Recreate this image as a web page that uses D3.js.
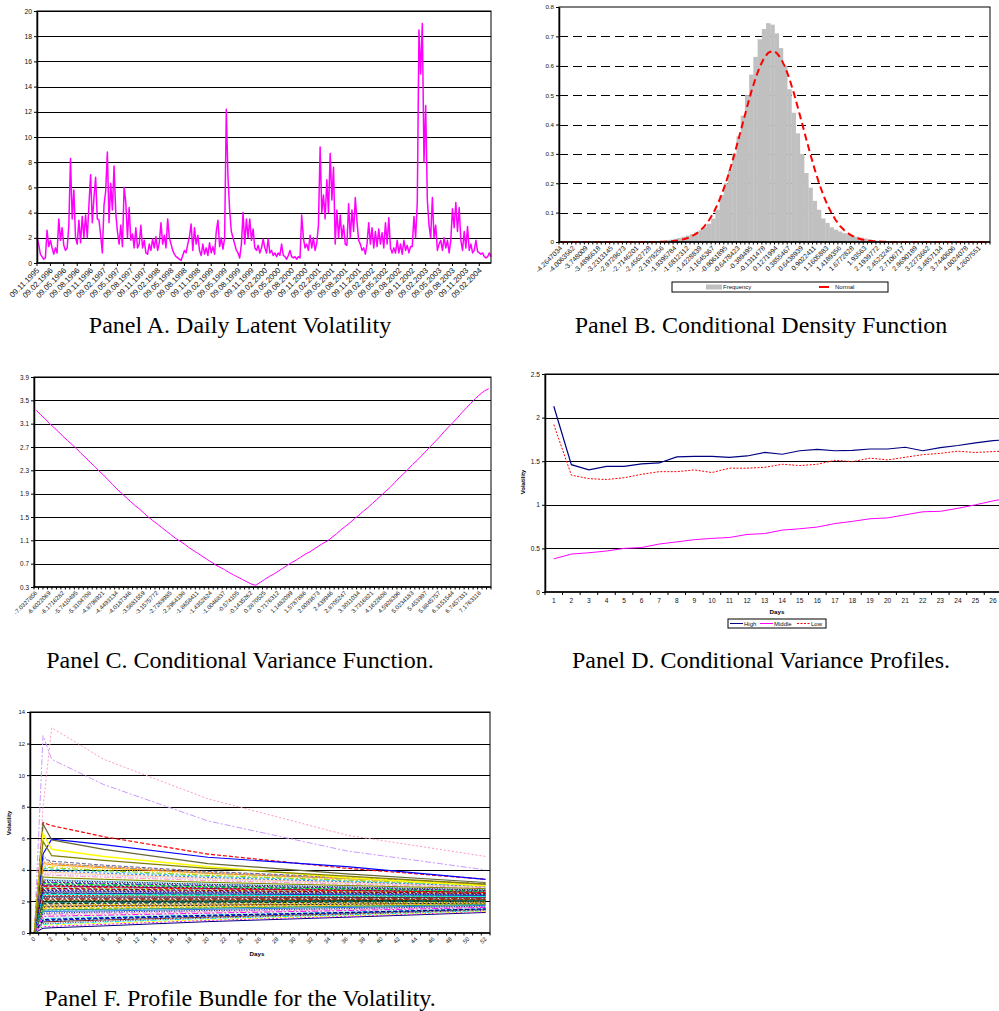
<!DOCTYPE html>
<html><head><meta charset="utf-8"><title>Panels</title>
<script src="https://cdn.jsdelivr.net/npm/d3@7/dist/d3.min.js"></script>
<style>html,body{margin:0;padding:0;background:#fff;}svg{display:block;}</style>
</head><body>
<script>
// ---------------- DATA ----------------
// Panel A
const datesA = ["09.11.1995","09.02.1996","09.05.1996","09.08.1996","09.11.1996","09.02.1997","09.05.1997","09.08.1997","09.11.1997","09.02.1998","09.05.1998","09.08.1998","09.11.1998","09.02.1999","09.05.1999","09.08.1999","09.11.1999","09.02.2000","09.05.2000","09.08.2000","09.11.2000","09.02.2001","09.05.2001","09.08.2001","09.11.2001","09.02.2002","09.05.2002","09.08.2002","09.11.2002","09.02.2003","09.05.2003","09.08.2003","09.11.2003","09.02.2004"];
const pointsPerDateA = 8;
const volA = [
2.0,1.5,0.7,0.5,0.3,0.4,2.6,1.3, 1.8,1.2,0.7,1.2,0.8,3.5,1.8,2.8,
1.4,1.0,1.2,3.0,8.3,3.5,5.8,2.0, 1.5,3.4,1.6,3.7,2.0,3.8,2.0,4.6,
7.0,3.2,5.2,6.8,3.5,3.4,2.2,0.8, 4.6,5.7,8.8,3.2,6.3,4.2,7.7,4.0,
2.5,1.5,3.0,1.3,6.0,4.8,2.0,4.4, 1.8,2.3,1.2,2.8,1.2,1.5,3.0,1.2,
1.8,0.8,0.7,1.5,1.0,1.9,1.2,2.1, 1.0,1.6,3.2,1.5,2.2,1.2,3.5,2.0,
1.5,1.0,0.7,0.5,0.4,0.3,0.2,0.6, 1.0,0.8,1.5,2.1,3.1,1.0,2.8,1.5,
2.2,1.0,0.6,1.5,0.7,1.2,0.6,1.6, 0.8,1.3,0.7,2.5,3.4,1.3,2.0,1.1,
2.0,12.2,6.8,4.2,2.5,2.0,1.5,1.0, 0.8,0.4,1.5,4.0,1.5,3.5,2.0,3.5,
1.8,2.7,1.2,1.0,1.4,0.8,1.2,1.9, 1.2,0.8,1.9,0.8,1.0,0.6,0.8,0.5,
0.8,0.6,1.5,0.6,0.5,0.3,0.6,1.0, 0.5,0.4,0.5,0.3,0.5,0.4,3.8,2.0,
1.2,1.5,1.0,2.2,1.2,2.0,1.0,1.6, 3.0,9.2,4.0,5.4,3.5,6.6,4.0,8.7,
5.0,7.6,1.5,4.2,2.0,3.8,2.0,3.0, 1.5,1.4,4.7,2.0,4.2,2.5,5.2,3.3,
1.8,1.5,1.0,1.2,0.7,1.5,3.2,1.5, 2.8,1.2,2.5,1.3,2.7,1.5,2.4,1.2,
3.2,1.5,3.6,1.2,0.8,1.2,0.8,1.8, 0.8,1.5,0.7,1.8,1.0,1.4,0.8,1.3,
1.3,3.7,2.0,4.8,18.5,15.0,19.0,8.0, 12.5,5.0,3.0,2.0,5.2,2.0,3.0,1.0,
1.5,1.8,1.0,2.0,1.2,1.8,0.8,1.8, 4.3,2.8,4.8,2.5,4.4,1.8,1.0,2.5,
1.2,2.9,1.0,1.5,0.8,1.0,1.8,0.9, 0.8,0.7,0.8,0.5,0.4,0.5,0.8,0.5];
const yTicksA = [0,2,4,6,8,10,12,14,16,18,20];

// Panel B
const binLabelsB = ["-4.2647034","-4.0063562","-3.748009","-3.4896618","-3.2313145","-2.9729673","-2.7146201","-2.4562728","-2.1979256","-1.9395784","-1.6812312","-1.4228839","-1.1645367","-0.9061895","-0.6478423","-0.389495","-0.1311478","0.1271994","0.3855467","0.6438939","0.9022411","1.1605883","1.4189356","1.6772828","1.93563","2.1939772","2.4523245","2.7106717","2.9690189","3.2273662","3.4857134","3.7440606","4.0024078","4.2607551"];
const binsPerLabelB = 3;
const freqB = [0,0,0,0,0,0,0,0,0,0,0,0,0,0,0,0,0,0,0,0,0,
0.001,0.002,0.003,0.004,0.006,0.008,0.011,0.014,0.018,0.022,0.027,0.033,0.04,0.05,0.062,0.08,0.11,0.16,0.2,0.245,
0.3,0.36,0.43,0.5,0.57,0.63,0.69,0.725,0.745,0.74,0.71,0.66,0.6,0.52,0.44,0.37,0.3,0.235,0.185,0.14,
0.11,0.08,0.065,0.05,0.042,0.036,0.03,0.026,0.022,0.018,0.015,0.012,0.009,0.006,0.004,0.003,0.002,0.001,
0,0,0,0,0,0,0,0,0,0,0,0,0,0,0,0,0,0,0,0,0,0,0];
const normalB = [0,0,0,0,0,0,0,0,0,0,0,0,0,0,0,0,0,0,0,0,0,0,0,
0.0005,0.0009,0.0015,0.0025,0.004,0.0061,0.0093,0.0137,0.02,0.0286,0.04,0.055,0.074,0.098,0.127,0.162,0.202,0.248,0.298,0.351,0.405,0.459,0.511,0.557,0.596,0.625,0.644,
0.65,
0.644,0.625,0.596,0.557,0.511,0.459,0.405,0.351,0.298,0.248,0.202,0.162,0.127,0.098,0.074,0.055,0.04,0.0286,0.02,0.0137,0.0093,0.0061,0.004,0.0025,0.0015,0.0009,0.0005,
0,0,0,0,0,0,0,0,0,0,0,0,0,0,0,0,0,0,0,0,0,0,0,0];
const yTicksB = [0,0.1,0.2,0.3,0.4,0.5,0.6,0.7,0.8];
const legendB = ["Frequency","Normal"];

// Panel C
const catLabelsC = ["-7.0327856","-6.6022069","-6.1716282","-5.7410495","-5.3104708","-4.8798921","-4.4493134","-4.0187346","-3.5881559","-3.1575772","-2.7269985","-2.2964198","-1.8658411","-1.4352624","-1.0046837","-0.574105","-0.1435262","0.2870525","0.7176312","1.1482099","1.5787886","2.0093673","2.439946","2.8705247","3.3011034","3.7316821","4.1622608","4.5928396","5.0234183","5.453997","5.8845757","6.3151544","6.7457331","7.1763118"];
const catsPerLabelC = 3;
const varC = [3.33,3.25,3.18,3.10,3.03,2.96,2.88,2.81,2.74,2.67,2.59,2.52,2.44,2.37,2.29,2.22,2.14,2.06,1.98,1.91,
1.84,1.77,1.70,1.64,1.57,1.50,1.44,1.38,1.32,1.26,1.20,1.14,1.09,1.04,0.98,0.93,0.88,0.83,0.78,0.73,
0.68,0.64,0.60,0.55,0.51,0.47,0.43,0.39,0.35,0.33,0.38,0.43,0.48,0.52,0.57,0.62,0.67,0.72,0.76,0.81,
0.86,0.90,0.95,1.00,1.05,1.09,1.15,1.21,1.28,1.34,1.40,1.47,1.53,1.60,1.66,1.73,1.80,1.87,1.94,2.01,
2.09,2.17,2.24,2.32,2.40,2.47,2.55,2.63,2.71,2.79,2.87,2.96,3.04,3.12,3.20,3.29,3.37,3.45,3.53,3.60,3.66,3.70];
const yTicksC = [0.3,0.7,1.1,1.5,1.9,2.3,2.7,3.1,3.5,3.9];

// Panel D
const daysD = [1,2,3,4,5,6,7,8,9,10,11,12,13,14,15,16,17,18,19,20,21,22,23,24,25,26,27,28];
const highD = [2.13,1.46,1.40,1.44,1.44,1.47,1.48,1.55,1.555,1.555,1.545,1.56,1.60,1.58,1.62,1.635,1.62,1.625,1.64,1.64,1.66,1.62,1.655,1.68,1.71,1.735,1.75,1.77];
const middleD = [0.38,0.435,0.45,0.47,0.50,0.51,0.55,0.575,0.60,0.615,0.625,0.66,0.67,0.71,0.725,0.745,0.785,0.81,0.84,0.85,0.885,0.92,0.925,0.96,1.00,1.045,1.08,1.11];
const lowD = [1.92,1.34,1.30,1.29,1.31,1.35,1.38,1.38,1.40,1.37,1.42,1.42,1.43,1.465,1.45,1.465,1.51,1.495,1.535,1.515,1.545,1.575,1.59,1.615,1.60,1.61,1.62,1.63];
const seriesNamesD = ["High","Middle","Low"];
const yTicksD = [0,0.5,1,1.5,2,2.5];

// Panel F
const daysF = [0,1,2,3,4,5,6,7,8,9,10,11,12,13,14,15,16,17,18,19,20,21,22,23,24,25,26,27,28,29,30,31,32,33,34,35,36,37,38,39,40,41,42,43,44,45,46,47,48,49,50,51,52];
const dayLabelStepF = 2;
const profileDaysF = [0,1,2,8,20,36,52];
const bundleF = [
[0,0.30,0.33,0.45,0.72,1.00,1.30],[0,0.40,0.42,0.55,0.80,1.05,1.35],[0,0.50,0.52,0.62,0.85,1.10,1.38],
[0,0.55,0.58,0.70,0.92,1.15,1.42],[0,0.60,0.62,0.75,0.95,1.18,1.45],[0,0.70,0.72,0.82,1.00,1.22,1.48],
[0,0.75,0.78,0.88,1.05,1.25,1.50],[0,0.80,0.82,0.92,1.08,1.28,1.52],[0,0.90,0.92,1.00,1.15,1.33,1.55],
[0,0.95,0.97,1.05,1.18,1.36,1.57],[0,1.00,1.02,1.08,1.22,1.40,1.60],[0,1.10,1.12,1.18,1.30,1.45,1.63],
[0,1.15,1.17,1.22,1.33,1.48,1.65],[0,1.20,1.22,1.28,1.38,1.52,1.68],[0,1.30,1.32,1.36,1.45,1.58,1.72],
[0,1.35,1.37,1.40,1.50,1.62,1.75],[0,1.40,1.42,1.46,1.55,1.66,1.78],[0,1.50,1.52,1.55,1.62,1.72,1.82],
[0,1.55,1.57,1.60,1.66,1.75,1.85],[0,1.60,1.62,1.65,1.70,1.78,1.88],[0,1.70,1.71,1.74,1.78,1.85,1.92],
[0,1.75,1.76,1.79,1.83,1.88,1.95],[0,1.80,1.81,1.83,1.87,1.92,1.98],[0,1.90,1.91,1.92,1.95,1.98,2.02],
[0,1.95,1.96,1.97,1.99,2.02,2.05],[0,2.00,2.00,2.01,2.03,2.05,2.08],[0,2.05,2.05,2.06,2.07,2.09,2.10],
[0,2.10,2.10,2.10,2.11,2.12,2.13],[0,2.20,2.20,2.19,2.19,2.18,2.18],[0,2.25,2.25,2.24,2.23,2.22,2.21],
[0,2.30,2.30,2.28,2.27,2.25,2.24],[0,2.40,2.39,2.37,2.34,2.31,2.28],[0,2.45,2.44,2.42,2.38,2.35,2.31],
[0,2.50,2.49,2.47,2.43,2.39,2.34],[0,2.60,2.59,2.56,2.51,2.45,2.39],[0,2.65,2.64,2.61,2.55,2.48,2.42],
[0,2.70,2.69,2.65,2.59,2.51,2.45],[0,2.80,2.79,2.75,2.67,2.58,2.50],[0,2.85,2.84,2.79,2.71,2.61,2.52],
[0,2.90,2.89,2.84,2.75,2.65,2.55],[0,3.00,2.98,2.93,2.82,2.70,2.58],[0,3.05,3.03,2.97,2.86,2.73,2.60],
[0,3.10,3.08,3.02,2.90,2.77,2.63],[0,3.20,3.18,3.10,2.97,2.82,2.67],[0,3.30,3.27,3.19,3.04,2.88,2.71],
[0,3.40,3.37,3.28,3.11,2.94,2.75],[0,3.50,3.46,3.36,3.18,2.99,2.79],[0,3.60,3.56,3.45,3.25,3.04,2.83],
[0,3.70,3.66,3.54,3.32,3.10,2.87],[0,3.80,3.75,3.62,3.39,3.15,2.90],[0,3.90,3.85,3.70,3.46,3.20,2.93],
[0,4.00,3.94,3.79,3.52,3.25,2.96],[0,4.10,4.04,3.88,3.59,3.30,2.99],[0,4.20,4.13,3.96,3.65,3.35,3.02],
[0,4.30,4.22,4.05,3.72,3.40,3.05],[0,4.40,4.32,4.13,3.78,3.45,3.08],[0,4.50,4.41,4.22,3.85,3.50,3.10],
[0,4.70,4.55,4.30,3.90,3.52,3.12],[0,4.90,4.40,4.20,3.80,3.45,3.05],[0,1.25,1.27,1.33,1.42,1.55,1.70],
[0,1.45,1.47,1.50,1.58,1.69,1.80],[0,1.65,1.66,1.70,1.75,1.82,1.90],[0,1.85,1.86,1.88,1.91,1.95,2.00],
[0,2.15,2.15,2.15,2.15,2.15,2.15],[0,2.35,2.34,2.33,2.30,2.28,2.26],[0,2.55,2.54,2.51,2.47,2.42,2.37],
[0,2.75,2.74,2.70,2.63,2.55,2.47],[0,2.95,2.94,2.88,2.79,2.68,2.57],[0,3.15,3.13,3.06,2.94,2.80,2.65],
[0,3.35,3.32,3.24,3.08,2.91,2.73],[0,3.55,3.51,3.40,3.21,3.01,2.81],[0,0.65,0.67,0.78,0.97,1.20,1.46],
[0,0.85,0.87,0.96,1.12,1.30,1.53],[0,1.05,1.07,1.13,1.26,1.42,1.62],[0,1.75,1.77,1.80,1.84,1.89,1.96],
[0,2.45,2.45,2.43,2.40,2.36,2.32],[0,3.25,3.22,3.15,3.00,2.85,2.69],[0,2.85,2.83,2.78,2.70,2.60,2.51],
[0,1.95,1.95,1.96,1.98,2.01,2.04],[0,2.65,2.63,2.60,2.54,2.47,2.41]];
const extremeF = [
[0,8.0,13.0,11.0,8.5,6.2,4.85],
[0,12.5,11.0,9.4,7.1,5.2,4.0],
[0,7.0,6.8,6.1,5.0,4.1,3.4],
[0,5.0,5.95,5.6,4.8,4.2,3.4],
[0,6.9,5.9,5.3,4.4,3.75,3.2],
[0,6.3,5.3,4.85,4.2,3.5,3.0],
[0,5.8,4.9,4.6,4.1,3.6,3.1]];
const yTicksF = [0,2,4,6,8,10,12,14];

// ---------------- STYLES ----------------
const FONT = "'Liberation Sans', Arial, Helvetica, sans-serif";
const SERIF = "'Liberation Serif', 'Times New Roman', serif";
const bundleColors = ["#000080","#FF00FF","#FFFF00","#00FFFF","#800080","#800000","#008080","#0000FF","#00CCFF","#99CCFF","#CCFFCC","#FFFF99","#FF99CC","#CC99FF","#FFCC99","#3366FF","#33CCCC","#99CC00","#FFCC00","#FF9900","#FF6600","#666699","#969696","#003366","#339966","#003300","#333300","#993300","#993366","#333399","#333333","#FF0000","#00FF00","#000000","#808000","#C0C0C0"];
const bundleDashes = [null,"2,2","4,2","6,2,2,2","1,1.5"];
const extremeColors = ["#FF99CC","#CC99FF","#FF0000","#0000FF","#666633","#FFFF00","#808000"];
const extremeDashes = ["2,2","6,2,2,2","4,2",null,null,null,null];
const extremeWidths = [1,1,1.2,1.2,1.2,1.5,1.2];
const CAPTION_SIZE = 24;

// ---------------- HELPERS ----------------
const svg = d3.select("body").append("svg").attr("width",999).attr("height",1011);

function hGrid(y, vals, x0, x1, dash){
  svg.append("g").selectAll("line").data(vals).join("line")
    .attr("x1",x0).attr("x2",x1)
    .attr("y1",d=>Math.round(y(d))+0.5).attr("y2",d=>Math.round(y(d))+0.5)
    .attr("stroke","#000").attr("stroke-width",1).attr("stroke-dasharray",dash||null);
}
function frame(x0,y0,x1,y1){
  svg.append("rect").attr("x",x0).attr("y",y0).attr("width",x1-x0).attr("height",y1-y0)
    .attr("fill","none").attr("stroke","#000").attr("stroke-width",1);
}
function leftAxis(y, vals, x0, fs){
  const g = svg.append("g").attr("transform",`translate(${x0},0)`)
    .call(d3.axisLeft(y).tickValues(vals).tickSize(3).tickSizeOuter(0).tickPadding(2).tickFormat(d=>String(d)));
  g.attr("font-size",fs).attr("font-family",FONT);
  g.select(".domain").attr("stroke-width",1.5);
  g.selectAll("text").attr("fill","#111");
}
function bottomLine(x0,x1,y1){
  svg.append("line").attr("x1",x0-0.75).attr("x2",x1).attr("y1",y1).attr("y2",y1)
    .attr("stroke","#000").attr("stroke-width",1.5);
}
function ticksDown(xs, y1, len){
  svg.append("g").selectAll("line").data(xs).join("line")
    .attr("x1",d=>d).attr("x2",d=>d).attr("y1",y1).attr("y2",y1+len)
    .attr("stroke","#000").attr("stroke-width",1);
}
function rotLabels(items, xf, y, fs){
  svg.append("g").selectAll("text").data(items).join("text")
    .attr("transform",(d,i)=>`translate(${xf(d,i)},${y}) rotate(-45)`)
    .attr("text-anchor","end").attr("dy","0.35em")
    .attr("font-size",fs).attr("font-family",FONT).attr("fill","#111")
    .text(d=>d);
}
function caption(text, x, y){
  svg.append("text").attr("x",x).attr("y",y).attr("text-anchor","middle")
    .attr("font-family",SERIF).attr("font-size",CAPTION_SIZE).attr("fill","#000").text(text);
}

// ---------------- PANEL A ----------------
{
  const x0=37,x1=491,y0=11,y1=263;
  const x = d3.scaleLinear().domain([0, volA.length-1]).range([x0,x1]);
  const y = d3.scaleLinear().domain([0,20]).range([y1,y0]);
  hGrid(y, yTicksA.slice(1), x0, x1);
  svg.append("path").datum(volA)
    .attr("d", d3.line().x((d,i)=>x(i)).y(d=>y(d)))
    .attr("fill","none").attr("stroke","#FF00FF").attr("stroke-width",1.5).attr("stroke-linejoin","round");
  frame(x0,y0,x1,y1);
  leftAxis(y, yTicksA, x0, 6.8);
  bottomLine(x0,x1,y1);
  ticksDown(datesA.map((d,i)=>x(i*pointsPerDateA)), y1, 3);
  rotLabels(datesA, (d,i)=>x(i*pointsPerDateA)+1, y1+6, 7.8);
  caption("Panel A. Daily Latent Volatility", 240, 333);
}

// ---------------- PANEL B ----------------
{
  const x0=559,x1=990,y0=7,y1=242;
  const x = d3.scaleBand().domain(d3.range(freqB.length)).range([x0,x1]).padding(0);
  const bw = x.bandwidth();
  const y = d3.scaleLinear().domain([0,0.8]).range([y1,y0]);
  hGrid(y, yTicksB.slice(1,-1), x0, x1, "9,5");
  svg.append("g").selectAll("rect").data(freqB).join("rect")
    .attr("x",(d,i)=>x(i)).attr("width",bw+0.3)
    .attr("y",d=>y(d)).attr("height",d=>y1-y(d)).attr("fill","#C0C0C0");
  frame(x0,y0,x1,y1);
  svg.append("path").datum(normalB)
    .attr("d", d3.line().x((d,i)=>x(i)+bw/2).y(d=>y(d)))
    .attr("fill","none").attr("stroke","#FF0000").attr("stroke-width",2).attr("stroke-dasharray","7,4");
  leftAxis(y, yTicksB, x0, 6.2);
  bottomLine(x0,x1,y1);
  ticksDown(d3.range(freqB.length+1).map(i=>x0+i*bw), y1, 2.5);
  rotLabels(binLabelsB, (d,i)=>x(i*binsPerLabelB)+bw/2, y1+5, 6.8);
  const lg = svg.append("g").attr("font-family",FONT).attr("font-size",6).attr("fill","#111");
  lg.append("rect").attr("x",672).attr("y",282).attr("width",216).attr("height",10).attr("fill","#fff").attr("stroke","#000").attr("stroke-width",1);
  lg.append("rect").attr("x",706).attr("y",284.5).attr("width",16).attr("height",5).attr("fill","#C0C0C0");
  lg.append("text").attr("x",723).attr("y",289.3).text(legendB[0]);
  lg.append("line").attr("x1",819).attr("x2",829).attr("y1",287).attr("y2",287).attr("stroke","#FF0000").attr("stroke-width",2);
  lg.append("text").attr("x",835).attr("y",289.3).text(legendB[1]);
  caption("Panel B. Conditional Density Function", 761, 333);
}

// ---------------- PANEL C ----------------
{
  const x0=34,x1=491,y0=377,y1=587;
  const x = d3.scaleBand().domain(d3.range(varC.length)).range([x0,x1]).padding(0);
  const bw = x.bandwidth();
  const y = d3.scaleLinear().domain([0.3,3.9]).range([y1,y0]);
  hGrid(y, yTicksC.slice(1), x0, x1);
  svg.append("path").datum(varC)
    .attr("d", d3.line().x((d,i)=>x(i)+bw/2).y(d=>y(d)))
    .attr("fill","none").attr("stroke","#FF00FF").attr("stroke-width",1);
  frame(x0,y0,x1,y1);
  leftAxis(y, yTicksC, x0, 6.4);
  bottomLine(x0,x1,y1);
  ticksDown(d3.range(varC.length+1).map(i=>x0+i*bw), y1, 2.5);
  rotLabels(catLabelsC, (d,i)=>x(i*catsPerLabelC)+bw/2, y1+5, 6);
  caption("Panel C. Conditional Variance Function.", 240, 668);
}

// ---------------- PANEL D ----------------
{
  const x0=545,y0=374,y1=592, band=17.57;
  const x = d3.scaleBand().domain(daysD).range([x0, x0+band*daysD.length]).padding(0);
  const x1 = x0+band*daysD.length;
  const bw = x.bandwidth();
  const y = d3.scaleLinear().domain([0,2.5]).range([y1,y0]);
  hGrid(y, yTicksD.slice(1), x0, x1);
  const ln = d3.line().x((d,i)=>x(daysD[i])+bw/2).y(d=>y(d));
  svg.append("path").datum(middleD).attr("d",ln).attr("fill","none").attr("stroke","#FF00FF").attr("stroke-width",1);
  svg.append("path").datum(lowD).attr("d",ln).attr("fill","none").attr("stroke","#FF0000").attr("stroke-width",1).attr("stroke-dasharray","2,1.5");
  svg.append("path").datum(highD).attr("d",ln).attr("fill","none").attr("stroke","#000080").attr("stroke-width",1.2);
  frame(x0,y0,x1,y1);
  leftAxis(y, yTicksD, x0, 6.6);
  bottomLine(x0,x1,y1);
  ticksDown(d3.range(daysD.length+1).map(i=>x0+i*bw), y1, 3);
  svg.append("g").selectAll("text").data(daysD.filter(d=>x(d)+bw/2 < 999)).join("text")
    .attr("x",d=>x(d)+bw/2).attr("y",603).attr("text-anchor","middle")
    .attr("font-size",6.6).attr("font-family",FONT).attr("fill","#111").text(d=>d);
  svg.append("text").attr("x",777).attr("y",614).attr("text-anchor","middle").attr("font-weight","bold")
    .attr("font-size",6.2).attr("font-family",FONT).text("Days");
  svg.append("text").attr("transform","translate(525,482) rotate(-90)").attr("text-anchor","middle").attr("font-weight","bold")
    .attr("font-size",6).attr("font-family",FONT).text("Volatility");
  const lg = svg.append("g").attr("font-family",FONT).attr("font-size",6).attr("fill","#111");
  lg.append("rect").attr("x",728).attr("y",619).attr("width",98).attr("height",9).attr("fill","#fff").attr("stroke","#000");
  const lx = [730,760,797], cols=["#000080","#FF00FF","#FF0000"], dsh=[null,null,"2,1.5"];
  seriesNamesD.forEach((n,i)=>{
    lg.append("line").attr("x1",lx[i]).attr("x2",lx[i]+13).attr("y1",623.5).attr("y2",623.5)
      .attr("stroke",cols[i]).attr("stroke-width",1).attr("stroke-dasharray",dsh[i]);
    lg.append("text").attr("x",lx[i]+14).attr("y",626).text(n);
  });
  caption("Panel D. Conditional Variance Profiles.", 761, 668);
}

// ---------------- PANEL F ----------------
{
  const x0=30,x1=490,y0=712,y1=933;
  const x = d3.scaleBand().domain(daysF).range([x0,x1]).padding(0);
  const bw = x.bandwidth();
  const y = d3.scaleLinear().domain([0,14]).range([y1,y0]);
  hGrid(y, yTicksF.slice(1), x0, x1);
  const ln = d3.line().x((d,i)=>x(profileDaysF[i])+bw/2).y(d=>y(d));
  svg.append("g").selectAll("path").data(bundleF).join("path")
    .attr("d",ln).attr("fill","none")
    .attr("stroke",(d,i)=>bundleColors[i%bundleColors.length])
    .attr("stroke-dasharray",(d,i)=>bundleDashes[i%bundleDashes.length])
    .attr("stroke-width",1);
  svg.append("g").selectAll("path").data(extremeF).join("path")
    .attr("d",ln).attr("fill","none")
    .attr("stroke",(d,i)=>extremeColors[i]).attr("stroke-dasharray",(d,i)=>extremeDashes[i])
    .attr("stroke-width",(d,i)=>extremeWidths[i]);
  frame(x0,y0,x1,y1);
  leftAxis(y, yTicksF, x0, 5.8);
  bottomLine(x0,x1,y1);
  ticksDown(d3.range(daysF.length+1).map(i=>x0+i*bw), y1, 2.5);
  const lab = daysF.filter(d=>d%dayLabelStepF===0);
  rotLabels(lab.map(String), (d)=>x(+d)+bw/2, y1+5, 5.8);
  svg.append("text").attr("x",257).attr("y",956).attr("text-anchor","middle").attr("font-weight","bold")
    .attr("font-size",6.2).attr("font-family",FONT).text("Days");
  svg.append("text").attr("transform","translate(11,823) rotate(-90)").attr("text-anchor","middle").attr("font-weight","bold")
    .attr("font-size",6).attr("font-family",FONT).text("Volatility");
  caption("Panel F. Profile Bundle for the Volatility.", 240, 1006);
}
</script>
</body></html>
